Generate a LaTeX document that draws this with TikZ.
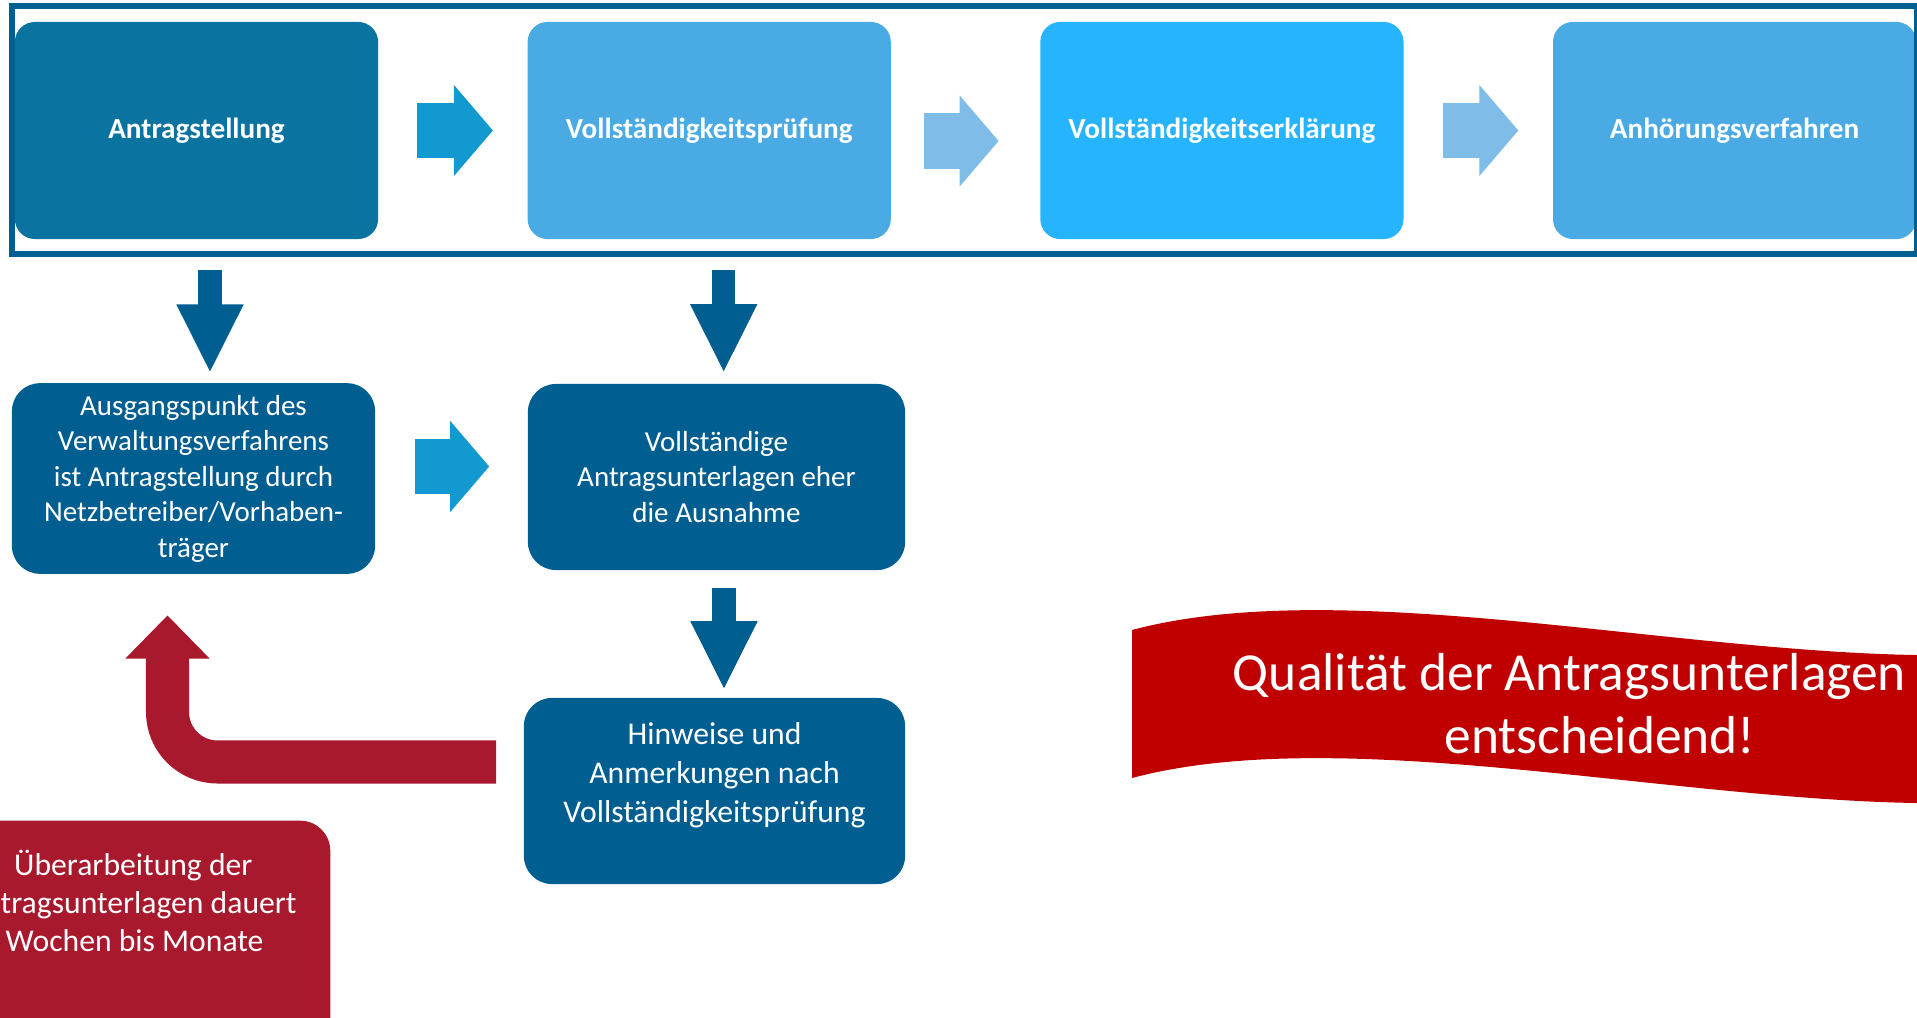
\documentclass[tikz,border=0pt]{standalone}
\usepackage{fontspec}
\setmainfont{Carlito}
\usepackage{xcolor}
\definecolor{darkblue}{HTML}{005E91}
\definecolor{tealblue}{HTML}{0A73A0}
\definecolor{midblue}{HTML}{4AAAE4}
\definecolor{skyblue}{HTML}{26B4FF}
\definecolor{arrowblue}{HTML}{1199D0}
\definecolor{lightarrow}{HTML}{7FBCE8}
\definecolor{wine}{HTML}{A8192E}
\definecolor{signalred}{HTML}{C00000}
\usepackage{tikz}
\usetikzlibrary{
    arrows.meta,
    positioning,
    calc
}
\tikzstyle{topbox} = [
    rectangle,
    rounded corners=0.2cm,
    minimum width=3.63cm,
    minimum height=2.17cm,
    text=white,
    align=center,
    font=\bfseries\fontsize{8.3}{10}\selectfont
]
\tikzstyle{midbox} = [
    rectangle,
    rounded corners=0.28cm,
    fill=darkblue,
    text=white,
    align=center,
    font=\fontsize{8.25}{10.1}\selectfont
]
\tikzstyle{fatarrow} = [
    line width=0.55cm,
    -{Triangle[length=0.39cm, width=0.91cm, line width=0.4pt]}
]
\tikzstyle{downarrow} = [
    darkblue,
    line width=0.23cm,
    -{Triangle[length=0.67cm, width=0.67cm, line width=0.4pt]}
]
\tikzstyle{backarrow} = [
    wine,
    line width=0.43cm,
    rounded corners=0.5cm,
    -{Triangle[length=0.43cm, width=0.84cm, line width=0.4pt]}
]

\begin{document}
\begin{tikzpicture}[x=0.01cm, y=-0.01cm]
\useasboundingbox (0,0) rectangle (1917,1018);

% obere Reihe
\node (antrag) [topbox, fill=tealblue] at (196.5,130.5) {Antragstellung};
\node (pruef) [topbox, fill=midblue, right=1.48cm of antrag] {Vollständigkeitsprüfung};
\node (erkl) [topbox, fill=skyblue, right=1.48cm of pruef] {Vollständigkeitserklärung};
\node (anhoer) [topbox, fill=midblue, right=1.48cm of erkl] {Anhörungsverfahren};

\draw [darkblue, line width=0.055cm]
    ($(antrag.north west)+(-2,-15)$) rectangle ($(anhoer.south east)+(0,14)$);

\draw [fatarrow, arrowblue, shorten <=0.38cm, shorten >=0.34cm] (antrag) -- (pruef);
\draw [fatarrow, lightarrow, shorten <=0.32cm, shorten >=0.41cm]
    ($(pruef.east)+(0,10.5)$) -- ($(erkl.west)+(0,10.5)$);
\draw [fatarrow, lightarrow, shorten <=0.39cm, shorten >=0.34cm] (erkl) -- (anhoer);

% mittlere Reihe
\node (aus) [midbox, minimum width=3.63cm, minimum height=1.87cm] at (193.5,478.5)
    {Ausgangspunkt des\\Verwaltungsverfahrens\\ist Antragstellung durch\\Netzbetreiber/Vorhaben-\\träger};
\node (voll) [midbox, minimum width=3.77cm, minimum height=1.86cm] at (716.5,477)
    {Vollständige\\Antragsunterlagen eher\\die Ausnahme};
\node (hinw) [midbox, minimum width=3.81cm, minimum height=1.86cm,
    font=\fontsize{9}{11}\selectfont, text depth=0.37cm] at (714.5,791)
    {Hinweise und\\Anmerkungen nach\\Vollständigkeitsprüfung};

\draw [downarrow, shorten <=0.3cm, shorten >=0.11cm]
    ($(antrag.south)+(13.5,0)$) -- ($(antrag.south |- aus.north)+(13.5,0)$);
\draw [downarrow, shorten <=0.3cm, shorten >=0.12cm]
    ($(pruef.south)+(14.5,0)$) -- ($(pruef.south |- voll.north)+(14.5,0)$);
\draw [downarrow, shorten <=0.17cm, shorten >=0.09cm]
    ($(voll.south)+(7.5,0)$) -- ($(voll.south |- hinw.north)+(7.5,0)$);

\draw [fatarrow, arrowblue, shorten <=0.39cm, shorten >=0.38cm]
    ($(aus.east)+(0,-12)$) -- ($(aus.east -| voll.west)+(0,-12)$);

% Rücksprung
\draw [backarrow] ($(hinw.west)+(-27,-29)$) -| ($(aus.south)+(-26,41)$);

\node (ueber) [rectangle, fill=wine, rounded corners=0.3cm, anchor=north east,
    minimum width=4.11cm, minimum height=2.8cm] at (331,820) {};
\node (uebertext) [anchor=north west, inner sep=0pt, align=left, text=white,
    font=\fontsize{9}{10.8}\selectfont] at (0,849)
    {\hspace*{0.135cm}Überarbeitung der\\tragsunterlagen dauert\\\hspace*{0.05cm}Wochen bis Monate};

% Banner
\fill [signalred] (1132,630) .. controls (1350,572) and (1700,660) .. (1960,655)
    -- (1960,803) .. controls (1700,808) and (1350,720) .. (1132,778) -- cycle;
\node (qual) [text=white, align=center, font=\fontsize{15.2}{17.9}\selectfont] at (1585,704)
    {Qualität der Antragsunterlagen\hspace*{0.31cm}\\\hspace*{0.3cm}entscheidend!};

\end{tikzpicture}
\end{document}
